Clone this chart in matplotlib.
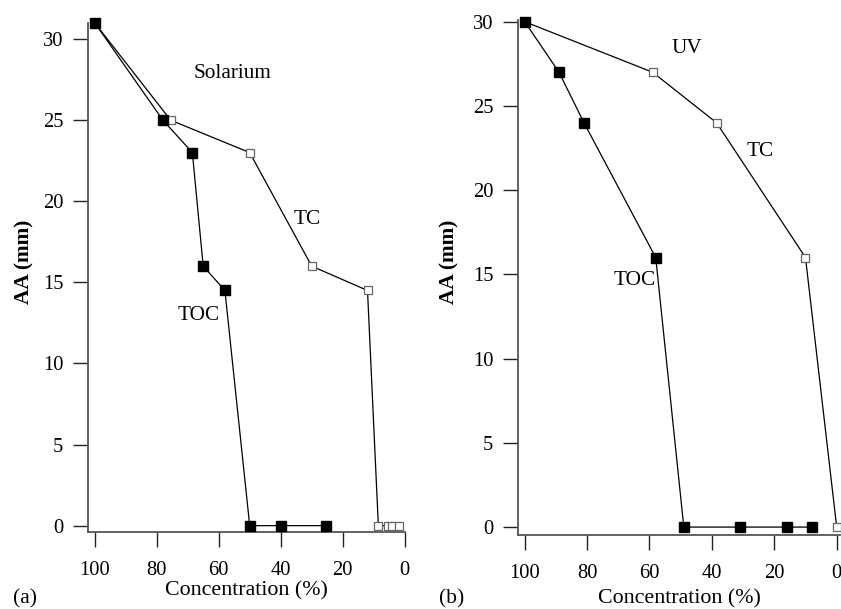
import matplotlib
matplotlib.use("Agg")
import matplotlib.pyplot as plt

plt.rcParams['font.family'] = ['Liberation Serif', 'DejaVu Serif']

# ---- data ----
x_ticks = [100, 80, 60, 40, 20, 0]
y_ticks = [0, 5, 10, 15, 20, 25, 30]

# (a) Solarium
tc_a_x = [100, 75.5, 50, 30, 12, 8.5, 5.5, 4, 2]
tc_a_y = [31, 25, 23, 16, 14.5, 0, 0, 0, 0]
toc_a_x = [100, 78, 68.5, 65, 58, 50, 40, 25.5]
toc_a_y = [31, 25, 23, 16, 14.5, 0, 0, 0]

# (b) UV
tc_b_x = [100, 59, 38.5, 10, 0]
tc_b_y = [30, 27, 24, 16, 0]
toc_b_x = [100, 89, 81, 58, 49, 31, 16, 8]
toc_b_y = [30, 27, 24, 16, 0, 0, 0, 0]

W, H = 841, 609
fig = plt.figure(figsize=(W / 100, H / 100), dpi=100)


def px_axes(x0, y0, x1, y1):
    return fig.add_axes([x0 / W, 1 - y1 / H, (x1 - x0) / W, (y1 - y0) / H])


def style(ax, xlim, ylim):
    ax.set_xlim(*xlim)
    ax.set_ylim(*ylim)
    ax.set_xticks(x_ticks)
    ax.set_yticks(y_ticks)
    for s in ('top', 'right'):
        ax.spines[s].set_visible(False)
    for s in ('left', 'bottom'):
        ax.spines[s].set_color('#555555')
        ax.spines[s].set_linewidth(1.3)
    ax.tick_params(axis='both', direction='out', length=10.5, width=1.0,
                   color='#222222', labelsize=14.8)
    ax.tick_params(axis='x', pad=10.5)
    ax.tick_params(axis='y', pad=7)
    ax.patch.set_alpha(0)


def draw(ax, tcx, tcy, tocx, tocy):
    ax.plot(tcx, tcy, color='black', lw=0.9, marker='s', ms=6,
            mfc='white', mec='#666666', mew=0.9, clip_on=False, zorder=3)
    ax.plot(tocx, tocy, color='black', lw=0.9, marker='s', ms=6.5,
            mfc='black', mec='black', clip_on=False, zorder=4)


ax1 = px_axes(87.7, 23, 404.7, 532.3)
style(ax1, (102.26, 0), (-0.41, 30.99))
draw(ax1, tc_a_x, tc_a_y, toc_a_x, toc_a_y)
ax1.text(55.4, 27.9, 'Solarium', fontsize=15.3, ha='center', va='center')
ax1.text(31.6, 18.85, 'TC', fontsize=15.3, ha='center', va='center')
ax1.text(66.3, 12.93, 'TOC', fontsize=15.3, ha='center', va='center')

ax2 = px_axes(517.7, 20, 840, 535)
style(ax2, (102.24, -1.06), (-0.47, 30.1))
draw(ax2, tc_b_x, tc_b_y, toc_b_x, toc_b_y)
ax2.text(48.1, 28.4, 'UV', fontsize=15.3, ha='center', va='center')
ax2.text(24.6, 22.3, 'TC', fontsize=15.3, ha='center', va='center')
ax2.text(64.6, 14.66, 'TOC', fontsize=15.3, ha='center', va='center')


def ftext(x, y, s, **kw):
    fig.text(x / W, 1 - y / H, s, ha='center', va='center', **kw)


ftext(24, 262, 'AA (mm)', fontsize=15.3, fontweight='bold', rotation=90)
ftext(449, 262, 'AA (mm)', fontsize=15.3, fontweight='bold', rotation=90)
ftext(246, 591, 'Concentration (%)', fontsize=15.8)
ftext(679, 599, 'Concentration (%)', fontsize=15.8)
ftext(25, 599, '(a)', fontsize=15.5)
ftext(452, 599, '(b)', fontsize=15.5)

fig.savefig('out.png', dpi=100)
